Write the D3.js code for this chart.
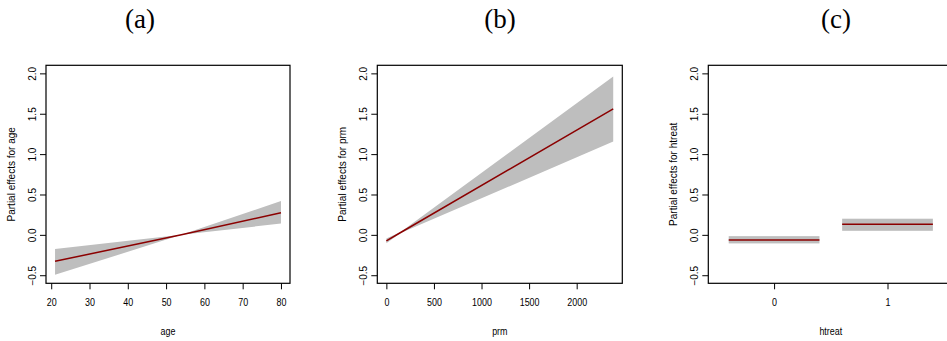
<!DOCTYPE html>
<html>
<head>
<meta charset="utf-8">
<script src="https://cdn.jsdelivr.net/npm/d3@7"></script>
<style>
  body { margin: 0; background: #fff; }
  svg { display: block; }
  text { font-family: "Liberation Sans", Arial, sans-serif; fill: #000; }
</style>
</head>
<body>
<svg id="chart" width="947" height="341"></svg>
<script>
// panel titles
const panelTitles = ["(a)", "(b)", "(c)"];
const varNames = ["age", "prm", "htreat"];

// y axis shared by all panels
const yTicks = [-0.5, 0.0, 0.5, 1.0, 1.5, 2.0];

// (a) age: fitted line and confidence band
const ageX = [21, 54, 80];
const ageFit = [-0.327, 0.0, 0.275];
const ageLower = [-0.495, 0.0, 0.14];
const ageUpper = [-0.176, 0.0, 0.418];
const ageTicks = [20, 30, 40, 50, 60, 70, 80];

// (b) prm
const prmX = [0, 150, 2384];
const prmFit = [-0.074, 0.029, 1.56];
const prmLower = [-0.105, 0.022, 1.155];
const prmUpper = [-0.045, 0.036, 1.96];
const prmTicks = [0, 500, 1000, 1500, 2000];

// (c) htreat, factor levels
const htreatLevels = [0, 1];
const htreatFit = [-0.065, 0.131];
const htreatLower = [-0.106, 0.05];
const htreatUpper = [-0.016, 0.2];

const svg = d3.select("#chart");
const plotTop = 65.3, plotH = 218;
const lefts = [46, 377.3, 708.3];
const widths = [244, 245, 245];
const titleX = [140, 500, 836];

const y = d3.scaleLinear().domain([-0.6, 2.1]).range([plotTop + plotH, plotTop]);

function pad(lo, hi) {
  const d = (hi - lo) * 0.04;
  return [lo - d, hi + d];
}

function drawFrame(i, x, xTicks, fmt) {
  const g = svg.append("g");
  const left = lefts[i], w = widths[i];

  // y axis, labels rotated like R's las = 0
  const ya = g.append("g").attr("transform", `translate(${left},0)`)
    .call(d3.axisLeft(y).tickValues(yTicks).tickSize(6).tickFormat(d3.format(".1f")));
  ya.select(".domain").remove();
  ya.selectAll("line").attr("stroke", "#000");
  ya.selectAll(".tick text")
    .attr("font-size", 10)
    .attr("x", 0).attr("y", 0).attr("dy", "0.35em")
    .attr("text-anchor", "middle")
    .attr("transform", "translate(-14,0) rotate(-90)")
    .text(d => d3.format(".1f")(d).replace("-", "\u2212"));

  // x axis
  const xa = g.append("g").attr("transform", `translate(0,${plotTop + plotH})`)
    .call(d3.axisBottom(x).tickValues(xTicks).tickSize(6).tickFormat(fmt));
  xa.select(".domain").remove();
  xa.selectAll("line").attr("stroke", "#000");
  xa.selectAll(".tick text").attr("font-size", 10.5).attr("y", 15)
    .attr("dy", "0.71em")
    .attr("transform", "scale(0.85,1)");

  // axis titles
  g.append("text")
    .attr("transform", `translate(${left - 31},${plotTop + plotH / 2}) rotate(-90)`)
    .attr("text-anchor", "middle").attr("font-size", 10)
    .text("Partial effects for " + varNames[i]);
  g.append("text")
    .attr("x", 0).attr("y", 0)
    .attr("text-anchor", "middle").attr("font-size", 10.5)
    .attr("transform", `translate(${left + w / 2},335) scale(0.85,1)`)
    .text(varNames[i]);

  // panel title
  svg.append("text")
    .attr("x", titleX[i]).attr("y", 28)
    .attr("text-anchor", "middle")
    .style("font-family", "'Liberation Serif', 'DejaVu Serif', serif")
    .attr("font-size", 27)
    .text(panelTitles[i]);

  return g;
}

function boxFrame(g, i) {
  g.append("rect")
    .attr("x", lefts[i]).attr("y", plotTop)
    .attr("width", widths[i]).attr("height", plotH)
    .attr("fill", "none").attr("stroke", "#000").attr("stroke-width", 1.2);
}

function continuousPanel(i, xs, fit, lo, hi, ticks) {
  const x = d3.scaleLinear().domain(pad(d3.min(xs), d3.max(xs)))
    .range([lefts[i], lefts[i] + widths[i]]);
  const g = drawFrame(i, x, ticks, d3.format("d"));
  const pts = xs.map((v, k) => ({ x: v, f: fit[k], lo: lo[k], hi: hi[k] }));
  g.append("path").datum(pts)
    .attr("fill", "#bebebe")
    .attr("d", d3.area().x(d => x(d.x)).y0(d => y(d.lo)).y1(d => y(d.hi)));
  g.append("path").datum(pts)
    .attr("fill", "none").attr("stroke", "#8b0000").attr("stroke-width", 1.5)
    .attr("d", d3.line().x(d => x(d.x)).y(d => y(d.f)));
  boxFrame(g, i);
}

function factorPanel(i) {
  const x = d3.scaleLinear().domain(pad(-0.5, 1.5))
    .range([lefts[i], lefts[i] + widths[i]]);
  const g = drawFrame(i, x, htreatLevels, d3.format("d"));
  htreatLevels.forEach((lv, k) => {
    g.append("rect")
      .attr("x", x(lv - 0.4)).attr("width", x(lv + 0.4) - x(lv - 0.4))
      .attr("y", y(htreatUpper[k])).attr("height", y(htreatLower[k]) - y(htreatUpper[k]))
      .attr("fill", "#bebebe");
    g.append("line")
      .attr("x1", x(lv - 0.4)).attr("x2", x(lv + 0.4))
      .attr("y1", y(htreatFit[k])).attr("y2", y(htreatFit[k]))
      .attr("stroke", "#8b0000").attr("stroke-width", 1.5);
  });
  boxFrame(g, i);
}

continuousPanel(0, ageX, ageFit, ageLower, ageUpper, ageTicks);
continuousPanel(1, prmX, prmFit, prmLower, prmUpper, prmTicks);
factorPanel(2);
</script>
</body>
</html>
